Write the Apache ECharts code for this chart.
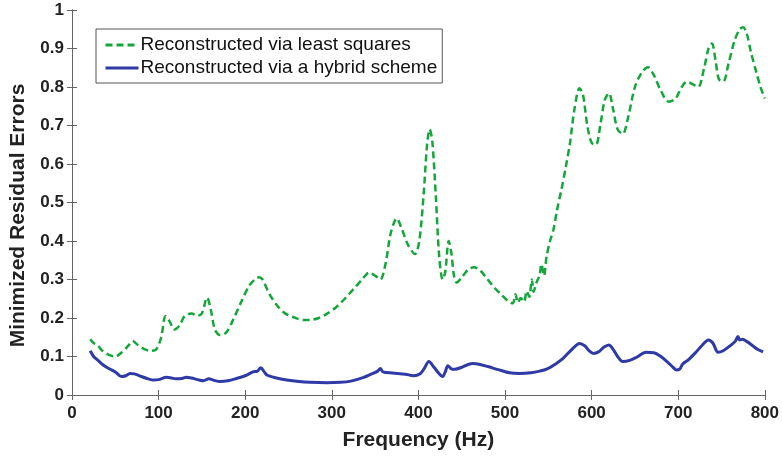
<!DOCTYPE html>
<html>
<head>
<meta charset="utf-8">
<script src="https://cdn.jsdelivr.net/npm/echarts@6/dist/echarts.min.js"></script>
<style>
  html, body { margin: 0; padding: 0; background: #fff; }
  #chart { width: 782px; height: 459px; }
</style>
</head>
<body>
<div id="chart"></div>
<script>
// least squares reconstruction (green dashed)
const freqLs = [21, 25, 30, 35, 42, 50, 58, 65, 70, 76, 83, 90, 97, 103, 108, 113, 118, 124, 130, 138, 145, 150, 156, 160, 165, 171, 178, 186, 195, 205, 212, 216, 220, 228, 237, 246, 256, 267, 275, 285, 295, 305, 315, 325, 335, 343, 350, 356, 362, 368, 375, 381, 388, 396, 401, 406, 410, 413, 416, 420, 424, 428, 431, 435, 438, 441, 444, 450, 457, 464, 472, 480, 488, 496, 503, 509, 512, 515, 518, 522, 525, 528, 531, 533, 536, 540, 542, 545, 548, 552, 556, 560, 565, 570, 575, 580, 586, 590, 595, 600, 605, 610, 615, 620, 625, 630, 636, 642, 650, 658, 665, 672, 680, 689, 697, 704, 710, 716, 723, 730, 735, 739, 743, 747, 752, 758, 765, 771, 775, 779, 784, 790, 795, 800];
const valLs = [0.145, 0.135, 0.128, 0.115, 0.105, 0.100, 0.112, 0.128, 0.140, 0.130, 0.120, 0.115, 0.118, 0.150, 0.205, 0.190, 0.170, 0.180, 0.205, 0.212, 0.206, 0.212, 0.253, 0.225, 0.170, 0.156, 0.162, 0.195, 0.240, 0.285, 0.302, 0.306, 0.300, 0.262, 0.232, 0.212, 0.202, 0.195, 0.195, 0.200, 0.212, 0.228, 0.250, 0.275, 0.300, 0.318, 0.310, 0.300, 0.340, 0.420, 0.459, 0.430, 0.390, 0.366, 0.400, 0.520, 0.650, 0.690, 0.660, 0.520, 0.360, 0.300, 0.320, 0.400, 0.370, 0.310, 0.292, 0.305, 0.325, 0.332, 0.322, 0.300, 0.278, 0.260, 0.245, 0.238, 0.262, 0.240, 0.252, 0.242, 0.270, 0.255, 0.300, 0.268, 0.290, 0.312, 0.340, 0.310, 0.360, 0.400, 0.430, 0.480, 0.532, 0.590, 0.654, 0.740, 0.797, 0.780, 0.700, 0.655, 0.650, 0.700, 0.765, 0.784, 0.740, 0.690, 0.678, 0.720, 0.800, 0.838, 0.851, 0.830, 0.790, 0.762, 0.770, 0.800, 0.814, 0.808, 0.800, 0.850, 0.900, 0.913, 0.870, 0.820, 0.814, 0.860, 0.920, 0.950, 0.955, 0.940, 0.890, 0.840, 0.800, 0.770];

// hybrid scheme reconstruction (blue solid)
const freqHy = [21, 25, 30, 36, 43, 50, 57, 62, 67, 72, 80, 88, 94, 100, 109, 115, 120, 127, 132, 138, 145, 152, 158, 164, 171, 180, 190, 200, 209, 214, 218, 222, 225, 235, 248, 262, 275, 294, 310, 322, 336, 346, 353, 356, 359, 370, 385, 394, 402, 407, 412, 418, 424, 428, 431, 434, 438, 442, 450, 456, 463, 470, 480, 492, 505, 517, 530, 540, 548, 558, 567, 577, 586, 592, 597, 602, 608, 614, 620, 625, 630, 636, 644, 652, 663, 672, 680, 688, 694, 698, 702, 705, 712, 720, 728, 735, 740, 746, 752, 760, 766, 769, 771, 774, 780, 786, 792, 798];
const valHy = [0.115, 0.100, 0.090, 0.078, 0.068, 0.060, 0.048, 0.050, 0.056, 0.055, 0.048, 0.042, 0.039, 0.040, 0.046, 0.044, 0.042, 0.043, 0.046, 0.044, 0.040, 0.037, 0.042, 0.038, 0.035, 0.037, 0.043, 0.050, 0.060, 0.062, 0.071, 0.060, 0.052, 0.045, 0.039, 0.035, 0.033, 0.032, 0.033, 0.036, 0.045, 0.055, 0.062, 0.069, 0.060, 0.057, 0.054, 0.050, 0.055, 0.070, 0.087, 0.072, 0.055, 0.048, 0.060, 0.076, 0.068, 0.067, 0.072, 0.078, 0.082, 0.080, 0.074, 0.066, 0.058, 0.056, 0.058, 0.062, 0.067, 0.080, 0.095, 0.118, 0.134, 0.128, 0.115, 0.108, 0.112, 0.124, 0.130, 0.118, 0.100, 0.087, 0.090, 0.098, 0.111, 0.110, 0.100, 0.085, 0.072, 0.065, 0.068, 0.080, 0.092, 0.110, 0.130, 0.143, 0.135, 0.111, 0.115, 0.128, 0.140, 0.152, 0.143, 0.145, 0.138, 0.128, 0.118, 0.112];

const seriesNames = ["Reconstructed via least squares", "Reconstructed via a hybrid scheme"];

const pairs = (xs, ys) => xs.map((x, i) => [x, ys[i]]);

const tickFont = {
  fontFamily: "'Liberation Sans', Arial, sans-serif",
  fontWeight: "bold",
  fontSize: 17,
  color: "#222",
};
const nameFont = {
  fontFamily: "'Liberation Sans', Arial, sans-serif",
  fontWeight: "bold",
  fontSize: 21,
  color: "#222",
};
const boxLine = { lineStyle: { color: "#666", width: 1 } };
const boxTick = { show: true, inside: true, length: 5, lineStyle: { color: "#666" } };

const myChart = echarts.init(document.getElementById("chart"));
const option = {
  backgroundColor: "#fff",
  animation: false,
  grid: {
    left: 72,
    right: 17,
    top: 10,
    bottom: 64,
  },
  legend: {
    orient: "vertical",
    left: 96,
    top: 29,
    padding: [6, 5, 5, 8],
    itemGap: 3,
    itemWidth: 33,
    itemHeight: 14,
    borderColor: "#555",
    borderWidth: 1,
    backgroundColor: "#fff",
    itemStyle: { opacity: 0 },
    lineStyle: { width: 3 },
    textStyle: {
      fontFamily: "'Liberation Sans', Arial, sans-serif",
      fontSize: 19,
      lineHeight: 20,
      color: "#111",
      padding: [0, 0, 0, -3],
    },
    data: seriesNames,
  },
  xAxis: [
    {
      type: "value",
      min: 0,
      max: 800,
      interval: 100,
      name: "Frequency (Hz)",
      nameLocation: "middle",
      nameGap: 35,
      nameTextStyle: nameFont,
      axisLine: boxLine,
      axisTick: boxTick,
      axisLabel: Object.assign({ margin: 10 }, tickFont),
      splitLine: { show: false },
    },
    {
      type: "value",
      position: "top",
      min: 0,
      max: 800,
      interval: 100,
      axisLine: boxLine,
      axisTick: boxTick,
      axisLabel: { show: false },
      splitLine: { show: false },
    },
  ],
  yAxis: [
    {
      type: "value",
      min: 0,
      max: 1,
      interval: 0.1,
      name: "Minimized Residual Errors",
      nameLocation: "middle",
      nameGap: 43,
      nameTextStyle: Object.assign({ padding: [0, 26, 0, 0] }, nameFont),
      axisLine: Object.assign({ show: true }, boxLine),
      axisTick: boxTick,
      axisLabel: Object.assign({ margin: 8, formatter: (v) => String(+v.toFixed(1)) }, tickFont),
      splitLine: { show: false },
    },
    {
      type: "value",
      position: "right",
      min: 0,
      max: 1,
      interval: 0.1,
      axisLine: Object.assign({ show: true }, boxLine),
      axisTick: boxTick,
      axisLabel: { show: false },
      splitLine: { show: false },
    },
  ],
  series: [
    {
      name: seriesNames[0],
      type: "line",
      data: pairs(freqLs, valLs),
      smooth: 0.3,
      showSymbol: false,
      symbol: "none",
      color: "#14a63a",
      lineStyle: { color: "#14a63a", width: 2.5, type: [7, 4] },
    },
    {
      name: seriesNames[1],
      type: "line",
      data: pairs(freqHy, valHy),
      smooth: 0.3,
      showSymbol: false,
      symbol: "none",
      color: "#2e3aa6",
      lineStyle: { color: "#2e3aa6", width: 3 },
    },
  ],
};

option && myChart.setOption(option);
</script>
</body>
</html>
